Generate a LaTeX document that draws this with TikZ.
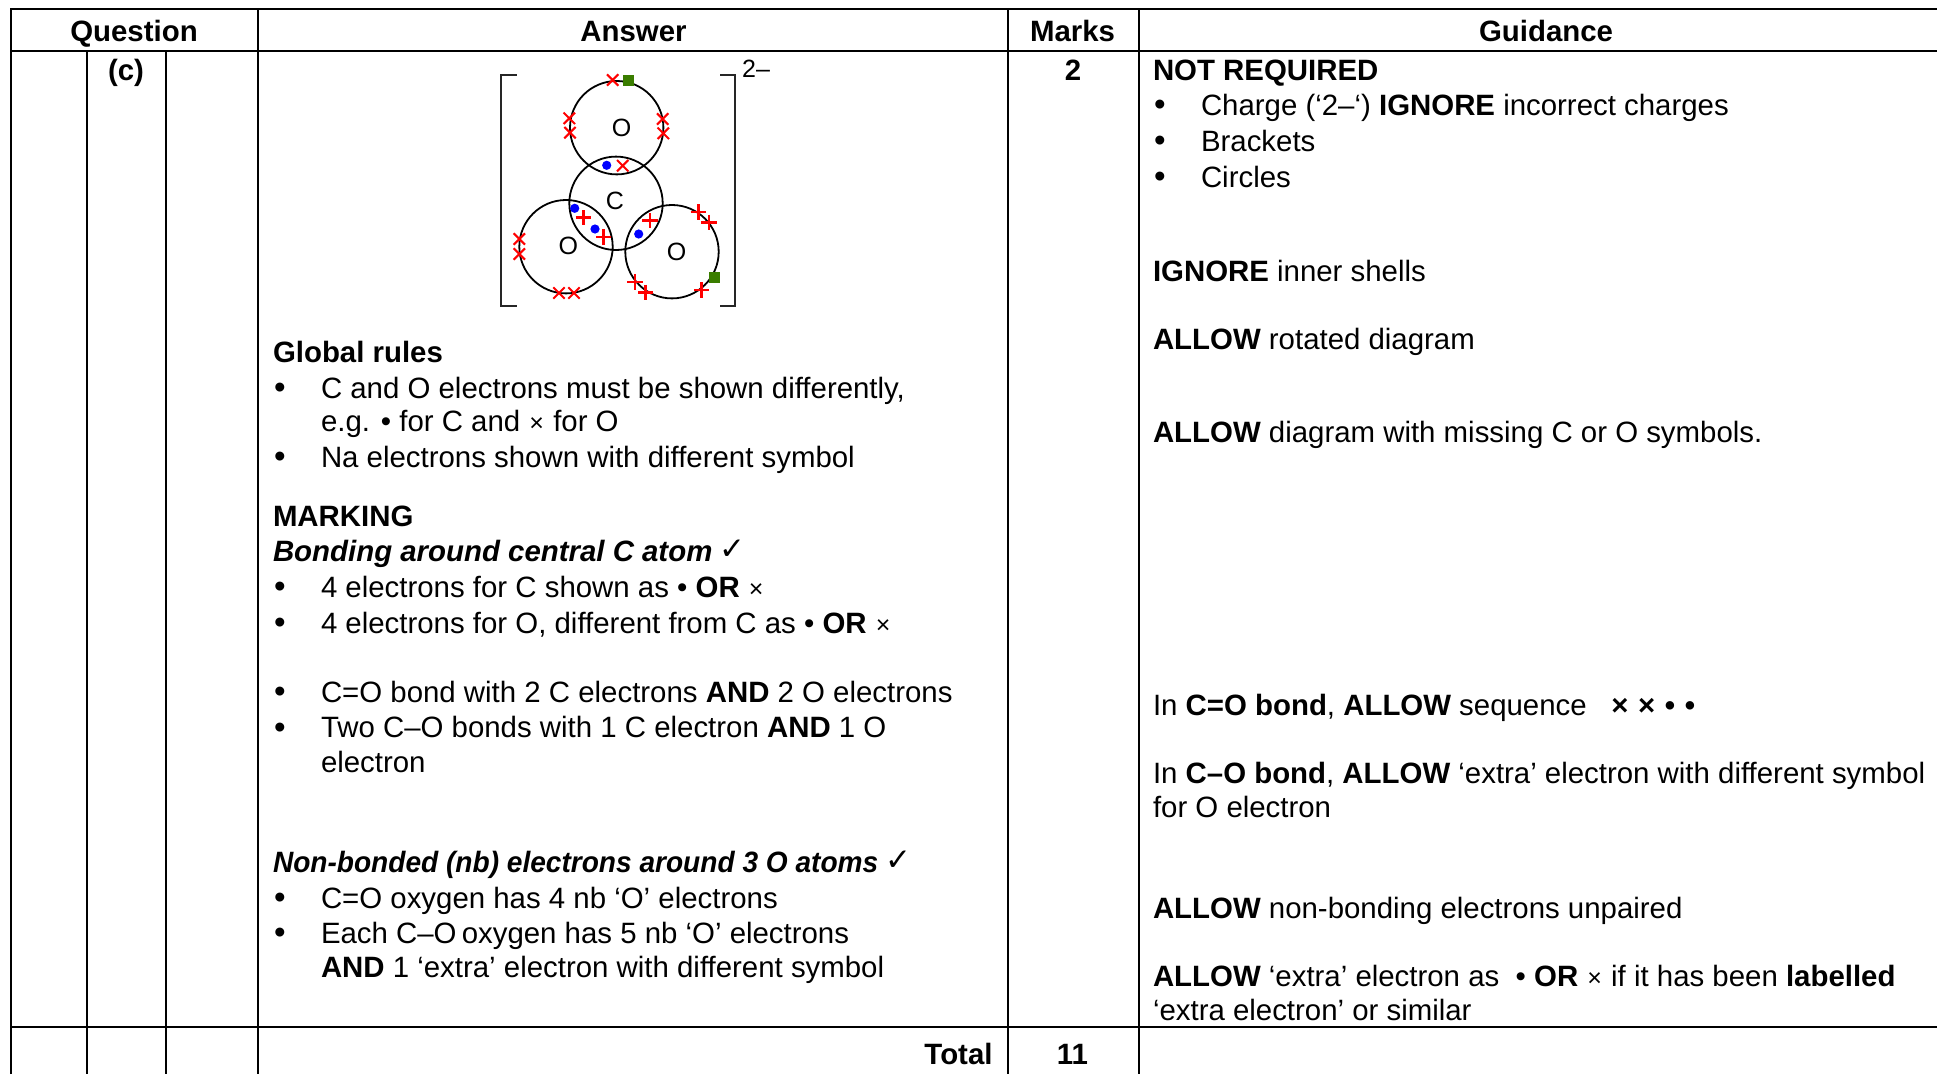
\documentclass[tikz,border=0pt]{standalone}
\usepackage{fontspec}
\setmainfont{Liberation Sans}
\newfontfamily\djvfont{DejaVu Sans}
\definecolor{elgreen}{HTML}{3A7D00}
\definecolor{elred}{HTML}{FF0000}
\definecolor{elblue}{HTML}{0000FF}
\newcommand{\tickmk}{\hspace{-1pt}\raisebox{1.5pt}{\djvfont\fontsize{31}{31}\selectfont ✓}}
\newcommand{\smx}{\hspace{1pt}{\fontsize{25}{25}\selectfont ×}\hspace{1pt}}
\tikzset{
 tx/.style={anchor=base west,inner sep=0pt,outer sep=0pt,font=\fontsize{29.4}{34}\selectfont},
 hd/.style={anchor=base,inner sep=0pt,outer sep=0pt,font=\fontsize{29.4}{34}\selectfont\bfseries},
 bul/.style={anchor=base,inner sep=0pt,outer sep=0pt,font=\fontsize{33}{34}\selectfont},
 rule/.style={line width=1.9pt,black},
 atom/.style={draw=black,line width=1.8pt,fill=none},
 elem/.style={anchor=center,inner sep=0pt,font=\fontsize{25}{25}\selectfont},
 brk/.style={line width=1.8pt,draw=black!85},
 elx/.style={draw=elred,line width=2.1pt},
 elp/.style={draw=elred,line width=2.7pt},
}
\newcommand{\elcross}[2]{\draw[elx] (#1-5.7,#2-5.7) -- (#1+5.7,#2+5.7) (#1-5.7,#2+5.7) -- (#1+5.7,#2-5.7);}
\newcommand{\elplus}[2]{\draw[elp] (#1-7.7,#2) -- (#1+7.7,#2) (#1,#2-7.7) -- (#1,#2+7.7);}
\newcommand{\eldot}[2]{\fill[elblue] (#1,#2) circle (4.6);}
\newcommand{\elsq}[2]{\fill[elgreen] (#1-5.5,#2-5.5) rectangle (#1+5.5,#2+5.5);}
\begin{document}
\begin{tikzpicture}[x=1pt,y=-1pt]
\useasboundingbox (0,0) rectangle (1937,1074);
\fill[white] (0,0) rectangle (1937,1074);
% table
\draw[rule] (11,1074) -- (11,9) -- (1937,9);
\draw[rule] (11,51) -- (1937,51);
\draw[rule] (11,1026.7) -- (1937,1026.7);
\draw[rule] (87,51) -- (87,1074);
\draw[rule] (165.7,51) -- (165.7,1074);
\draw[rule] (258,9) -- (258,1074);
\draw[rule] (1008,9) -- (1008,1074);
\draw[rule] (1139,9) -- (1139,1074);
% header
\node[hd] (hq) at (134,41) {Question};
\node[hd] (ha) at (633.5,41) {Answer};
\node[hd] (hm) at (1072.5,41) {Marks};
\node[hd] (hg) at (1546,41) {Guidance};
\node[hd] (qc) at (126,80) {(c)};
\node[hd] (m2) at (1073,80) {2};
\node[hd,anchor=base east] (tot) at (992.5,1064) {Total};
\node[hd] (m11) at (1072.5,1064) {11};
% diagram
\draw[atom] (616.7,127.7) circle (46.7);
\draw[atom] (616,203.3) circle (46.7);
\draw[atom] (566,246.7) circle (46.7);
\draw[atom] (672,251.7) circle (46.7);
\node[elem] (o1) at (621.7,127.7) {O};
\node[elem] (cc) at (615,200.7) {C};
\node[elem] (o2) at (568.3,246) {O};
\node[elem] (o3) at (676.7,251.7) {O};
\draw[brk] (516.7,75) -- (500.7,75) -- (500.7,305.7) -- (516.7,305.7);
\draw[brk] (720,75) -- (735.3,75) -- (735.3,305.7) -- (720,305.7);
\node[elem,anchor=base west] (chg) at (742,77) {2–};
\elcross{612.7}{80}\elcross{569.3}{118.3}\elcross{570}{132.7}\elcross{662.7}{119}\elcross{663.3}{133.3}\elcross{622.7}{165.7}
\elcross{519.3}{239}\elcross{519.3}{254}\elcross{559}{293}\elcross{574}{293}
\elplus{583.3}{217.7}\elplus{603.7}{237}\elplus{650}{220.7}\elplus{698.3}{212}\elplus{709}{222.3}\elplus{635}{282}\elplus{645.7}{292.3}\elplus{701.7}{290}
\eldot{606.7}{165.3}\eldot{574.7}{208.3}\eldot{595}{229}\eldot{638.7}{234}
\elsq{628.3}{80.3}\elsq{714}{277}
% answer text
\node[hd,anchor=base west] (a1) at (273,362) {Global rules};
\node[bul] (b1) at (280,398.5) {•};
\node[tx] (a2) at (321,398) {C and O electrons must be shown differently,};
\node[tx] (a3) at (321,431) {e.g. • for C and \smx{} for O};
\node[bul] (b2) at (280,467.5) {•};
\node[tx] (a4) at (321,467) {Na electrons shown with different symbol};
\node[hd,anchor=base west] (a5) at (273,526) {MARKING};
\node[tx] (a6) at (273,561) {\textbf{\textit{Bonding around central C atom}} \tickmk};
\node[bul] (b3) at (280,597.5) {•};
\node[tx] (a7) at (321,597) {4 electrons for C shown as • \textbf{OR} \smx};
\node[bul] (b4) at (280,633.5) {•};
\node[tx] (a8) at (321,633) {4 electrons for O, different from C as • \textbf{OR} \smx};
\node[bul] (b5) at (280,702.5) {•};
\node[tx] (a9) at (321,702) {C=O bond with 2 C electrons \textbf{AND} 2 O electrons};
\node[bul] (b6) at (280,738) {•};
\node[tx] (a10) at (321,737.5) {Two C–O bonds with 1 C electron \textbf{AND} 1 O};
\node[tx] (a11) at (321,772) {electron};
\node[tx] (a12) at (273,872) {\scalebox{0.955}[1]{\textbf{\textit{Non-bonded (nb) electrons around 3 O atoms}}} \tickmk};
\node[bul] (b7) at (280,908.5) {•};
\node[tx] (a13) at (321,908) {C=O oxygen has 4 nb ‘O’ electrons};
\node[bul] (b8) at (280,943.5) {•};
\node[tx] (a14) at (321,943) {Each C–O\hspace{-3pt} oxygen has 5 nb ‘O’ electrons};
\node[tx] (a15) at (321,977) {\textbf{AND} 1 ‘extra’ electron with different symbol};
% guidance
\node[hd,anchor=base west] (g1) at (1153,80) {NOT REQUIRED};
\node[bul] (c1) at (1160,115.5) {•};
\node[tx] (g2) at (1201,115) {Charge (‘2–‘) \textbf{IGNORE} incorrect charges};
\node[bul] (c2) at (1160,151.5) {•};
\node[tx] (g3) at (1201,151) {Brackets};
\node[bul] (c3) at (1160,187.5) {•};
\node[tx] (g4) at (1201,187) {Circles};
\node[tx] (g5) at (1153,281) {\textbf{IGNORE} inner shells};
\node[tx] (g6) at (1153,349) {\textbf{ALLOW} rotated diagram};
\node[tx] (g7) at (1153,442) {\textbf{ALLOW} diagram with missing C or O symbols.};
\node[tx] (g8) at (1153,715) {In \textbf{C=O bond}, \textbf{ALLOW} sequence \ \ \textbf{×\hspace{1.5pt} ×\hspace{1.5pt} •\hspace{1.5pt} •}};
\node[tx] (g9) at (1153,783) {In \textbf{C–O bond}, \textbf{ALLOW} ‘extra’ electron with different symbol};
\node[tx] (g10) at (1153,817) {for O electron};
\node[tx] (g11) at (1153,918) {\textbf{ALLOW} non-bonding electrons unpaired};
\node[tx] (g12) at (1153,986) {\textbf{ALLOW} ‘extra’ electron as \ • \textbf{OR} \smx{} if it has been \textbf{labelled}};
\node[tx] (g13) at (1153,1020) {‘extra electron’ or similar};
\end{tikzpicture}
\end{document}
